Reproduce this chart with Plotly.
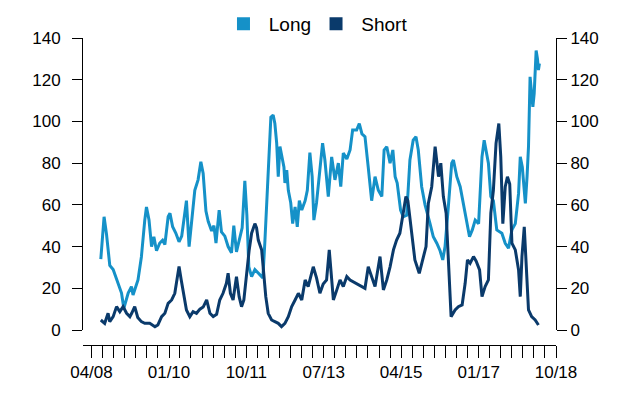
import plotly.graph_objects as go
import pandas as pd

long_dates = [
    "2008-06-17","2008-07-14","2008-08-03","2008-08-30","2008-09-27","2008-10-25","2008-12-05","2008-12-24",
    "2009-01-29","2009-02-25","2009-03-10","2009-04-20","2009-05-18","2009-06-15","2009-06-29","2009-07-20",
    "2009-08-10","2009-08-29","2009-09-20","2009-10-17","2009-11-09","2009-11-28","2009-12-25","2010-01-09",
    "2010-01-31","2010-02-26","2010-03-25","2010-04-16","2010-05-11","2010-05-25","2010-06-16","2010-07-05",
    "2010-08-02","2010-08-29","2010-09-21","2010-10-10","2010-11-02","2010-11-21","2010-12-19","2011-01-07",
    "2011-01-24","2011-02-19","2011-03-10","2011-04-07","2011-05-04","2011-06-01","2011-06-20","2011-07-12",
    "2011-08-09","2011-08-28","2011-09-19","2011-10-06","2011-10-22","2011-11-14","2011-12-11","2012-01-22",
    "2012-02-15","2012-03-02","2012-03-30","2012-04-21","2012-05-10","2012-05-24","2012-06-08","2012-06-21",
    "2012-07-05","2012-08-07","2012-08-15","2012-08-30","2012-09-12","2012-10-02","2012-10-18","2012-11-07",
    "2012-11-25","2012-12-12","2013-01-01","2013-01-29","2013-02-16","2013-03-09","2013-03-28","2013-04-11",
    "2013-05-03","2013-05-31","2013-06-22","2013-07-11","2013-08-08","2013-09-05","2013-10-02","2013-10-30",
    "2013-11-19","2013-12-10","2014-01-08","2014-02-04","2014-02-25","2014-03-30","2014-04-21","2014-05-13",
    "2014-06-07","2014-07-04","2014-08-01","2014-08-29","2014-09-25","2014-10-24","2014-11-12","2014-12-04",
    "2014-12-31","2015-01-23","2015-02-11","2015-02-28","2015-03-28","2015-04-19","2015-05-17","2015-06-13",
    "2015-07-10","2015-08-02","2015-08-21","2015-09-18","2015-10-16","2015-11-26","2015-12-23","2016-01-21",
    "2016-02-17","2016-03-10","2016-03-29","2016-04-25","2016-05-23","2016-06-06","2016-07-04","2016-08-01",
    "2016-08-28","2016-09-25","2016-10-17","2016-11-09","2016-12-03","2016-12-31","2017-01-28","2017-02-15",
    "2017-03-03","2017-03-22","2017-04-11","2017-05-02","2017-05-30","2017-07-11","2017-08-08","2017-09-04",
    "2017-10-02","2017-10-30","2017-11-26","2017-12-10","2017-12-27","2018-01-21","2018-02-04","2018-02-16",
    "2018-03-01","2018-03-24","2018-04-04","2018-04-20","2018-05-01","2018-05-09","2018-05-17",
]
long_values = [
    34, 54.3, 46, 31, 29, 24, 17.7, 10.4,
    17.7, 20.8, 16.8, 24, 35, 52.7, 59, 52.7,
    40, 44.7, 38, 41.7, 43, 41, 54.3, 56,
    49.5, 46.5, 42.3, 45, 56, 62, 40, 51,
    67, 72, 80.7, 75, 57, 52, 47.5, 50,
    41.7, 57.5, 47, 45, 40, 37, 50, 37.5,
    45, 49, 71.5, 55, 30.3, 25.6, 29, 26.4,
    25, 41.7, 78, 102, 103, 99, 89.6, 73.5,
    88, 78, 70.5, 76.7, 67, 61, 51, 59,
    49.5, 62, 57.5, 62, 67, 85, 73.5, 52.7,
    61, 78, 89.6, 81.5, 64, 83, 72, 80,
    68.7, 84.8, 82, 86.3, 95.9, 95.9, 99, 94,
    92.7, 78, 62, 73.5, 67, 64, 86.3, 87.9,
    80, 86.3, 73.5, 70.5, 57.5, 54.3, 55, 81.5,
    91, 92.7, 86.3, 68.7, 60, 51, 44.7, 41.6,
    38, 33.6, 40, 59, 80, 81.5, 73.5, 68.7,
    60.7, 51, 44.7, 48, 52.7, 51, 83, 91,
    86, 80, 64, 62, 48, 46.4, 41.6, 39.2,
    48, 51, 65.5, 83, 78, 60.7, 73.5, 87.9,
    121.4, 107, 113.5, 134, 130, 124.6, 127.8,
]

short_dates = [
    "2008-06-17","2008-07-19","2008-08-16","2008-08-30","2008-09-27","2008-10-25","2008-11-21","2008-12-18",
    "2009-01-16","2009-02-12","2009-02-27","2009-03-24","2009-04-18","2009-05-18","2009-06-15","2009-07-26",
    "2009-09-07","2009-10-01","2009-11-01","2009-11-28","2009-12-25","2010-01-23","2010-02-18","2010-03-08",
    "2010-03-25","2010-04-12","2010-05-03","2010-05-25","2010-06-22","2010-07-19","2010-08-16","2010-09-13",
    "2010-10-10","2010-11-08","2010-12-05","2011-01-01","2011-01-29","2011-02-24","2011-03-23","2011-04-20",
    "2011-05-04","2011-05-23","2011-06-14","2011-07-12","2011-08-03","2011-08-23","2011-09-11","2011-10-03",
    "2011-10-25","2011-11-14","2011-12-11","2011-12-25","2012-01-08","2012-02-05","2012-02-23","2012-03-10",
    "2012-03-30","2012-04-27","2012-05-24","2012-06-21","2012-07-18","2012-08-15","2012-09-12","2012-10-10",
    "2012-11-07","2012-12-04","2013-01-01","2013-01-29","2013-02-23","2013-03-23","2013-04-06","2013-05-03",
    "2013-05-31","2013-06-27","2013-07-25","2013-08-16","2013-09-04","2013-09-19","2013-10-16","2013-11-13",
    "2013-12-10","2014-01-08","2014-02-04","2014-03-02","2014-03-30","2014-05-10","2014-06-07","2014-07-04",
    "2014-08-01","2014-08-29","2014-10-09","2014-11-06","2014-12-04","2014-12-31","2015-01-28","2015-02-23",
    "2015-03-22","2015-04-19","2015-05-11","2015-05-27","2015-06-27","2015-07-24","2015-08-29","2015-10-02",
    "2015-10-24","2015-11-12","2015-12-10","2016-01-07","2016-02-04","2016-02-23","2016-03-15","2016-04-07",
    "2016-04-25","2016-05-18","2016-06-20","2016-07-17","2016-08-17","2016-09-11","2016-09-30","2016-10-22",
    "2016-11-19","2016-12-11","2017-01-08","2017-01-28","2017-02-23","2017-03-22","2017-04-11","2017-05-02",
    "2017-05-24","2017-06-16","2017-07-02","2017-07-19","2017-08-08","2017-08-26","2017-09-14","2017-10-02",
    "2017-10-30","2017-11-26","2017-12-10","2017-12-24","2018-01-12","2018-01-29","2018-02-16","2018-03-14",
    "2018-04-12","2018-05-09",
]
short_values = [
    4.8, 3.2, 8, 4, 6.4, 11.2, 8.8, 11.2,
    8, 6.4, 8, 11.2, 6, 4, 3.2, 3.2,
    1.6, 2.4, 6.4, 8, 12.8, 14.4, 17.6, 24,
    30.5, 24, 16, 9.6, 6.4, 8.8, 8, 10,
    11, 14.4, 8, 6.4, 7.5, 14.4, 17.6, 22.4,
    27.2, 17.6, 14.4, 25.6, 16, 11.2, 14.4, 27.2,
    38.4, 46.4, 51, 49, 43.1, 38.4, 27.2, 16,
    8, 4.8, 4, 3.2, 1.6, 3.2, 6.4, 11.2,
    14.4, 17.6, 14.4, 24, 20.8, 27.2, 30.3, 25,
    17.6, 22, 24, 38.4, 26, 14.4, 19, 24,
    20.8, 25.6, 24, 23.2, 22.4, 20.8, 20, 30.3,
    25.6, 20.8, 35.2, 19.2, 24, 30.3, 38.4, 43.1,
    46.4, 57.5, 64, 62, 46.4, 33.6, 27.2, 35.2,
    40, 60.7, 68.7, 87.9, 73.5, 80, 64, 56,
    32, 6.4, 9.6, 11.2, 12, 22.4, 33.6, 32,
    35.2, 33, 28.8, 16, 20.8, 24, 56, 67,
    89.5, 99, 83, 51, 68.7, 73.5, 70, 41.6,
    38.4, 28.8, 16, 35.2, 49.5, 28.8, 9.6, 6.4,
    4.8, 2.4,
]

series_names = ["Long", "Short"]
series_colors = ["#1591C8", "#0A3A6B"]

x_tick_labels = ["04/08", "01/10", "10/11", "07/13", "04/15", "01/17", "10/18"]
y_ticks = [0, 20, 40, 60, 80, 100, 120, 140]
y_min, y_max = 0, 140

tick_dates = pd.date_range("2008-04-01", "2018-10-01", freq="3MS")
tick_text = []
for i in range(len(tick_dates)):
    tick_text.append(x_tick_labels[i // 7] if i % 7 == 0 else "")

font = dict(family="Liberation Sans, Arial, sans-serif", size=17, color="#000000")
legend_font = dict(family="Liberation Sans, Arial, sans-serif", size=19, color="#000000")

# plot area is 307 px high; the value axes stop 15 px above the date axis line
plot_h = 307
gap_px = 15
y_bottom = gap_px / plot_h

fig = go.Figure()
for xs, ys, col in [
    (long_dates, long_values, series_colors[0]),
    (short_dates, short_values, series_colors[1]),
]:
    fig.add_trace(go.Scatter(x=xs, y=ys, mode="lines", line=dict(color=col, width=3),
                             showlegend=False, hoverinfo="skip"))

# legend entries (square keys); they also reference the overlay axes
fig.add_trace(go.Scatter(x=[None], y=[None], mode="markers", name=" " + series_names[0], yaxis="y3",
                         marker=dict(symbol="square", size=13, color=series_colors[0])))
fig.add_trace(go.Scatter(x=[None], y=[None], mode="markers", name=" " + series_names[1], yaxis="y2",
                         marker=dict(symbol="square", size=13, color=series_colors[1])))

tick_style = dict(ticks="outside", ticklen=10, tickcolor="#000000", tickwidth=1)
line_style = dict(showline=True, linecolor="#000000", linewidth=1)

fig.update_layout(
    width=640, height=400,
    margin=dict(l=83, r=84, t=38, b=55, autoexpand=False),
    paper_bgcolor="white", plot_bgcolor="white",
    font=font,
    showlegend=True,
    legend=dict(orientation="h", x=0.297, xanchor="left", y=1.0456, yanchor="middle",
                font=legend_font, bgcolor="rgba(0,0,0,0)"),
    xaxis=dict(type="date", range=["2008-01-22", "2018-10-01"],
               tickmode="array", tickvals=list(tick_dates), ticktext=tick_text,
               ticks="outside", ticklen=12, tickcolor="#000000", tickwidth=1,
               showline=True, linecolor="#000000", linewidth=1,
               showgrid=False, zeroline=False, tickfont=font,
               anchor="free", position=0),
    # main axis: data, left line and left ticks
    yaxis=dict(range=[y_min, y_max], domain=[y_bottom, 1], tickvals=y_ticks,
               showticklabels=False, showgrid=False, zeroline=False,
               **tick_style, **line_style),
    # right axis: line, ticks and labels
    yaxis2=dict(range=[y_min, y_max], overlaying="y", side="right", tickvals=y_ticks,
                showgrid=False, zeroline=False, tickfont=font, **tick_style, **line_style),
    # left labels, set further out than the ticks
    yaxis3=dict(range=[y_min, y_max], overlaying="y", side="left", tickvals=y_ticks,
                ticks="outside", ticklen=18, tickcolor="rgba(0,0,0,0)",
                showline=False, showgrid=False, zeroline=False, tickfont=font),
)

fig.write_html("out.html", config={"displayModeBar": False},
               post_script="document.body.style.margin='0px';")
